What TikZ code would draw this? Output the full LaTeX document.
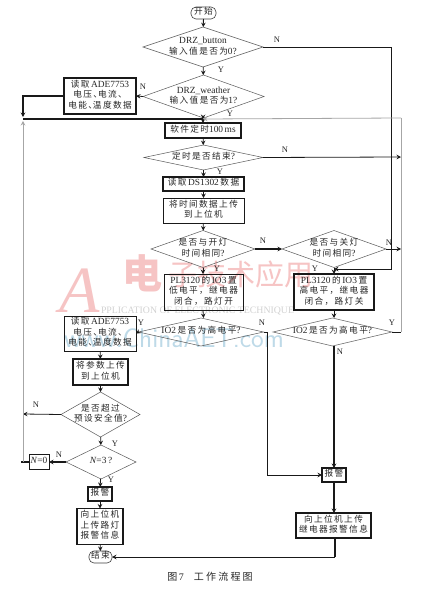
\documentclass[tikz,border=0pt]{standalone}
\usepackage{fontspec}
\setmainfont{Liberation Serif}
\newfontfamily\cjk[LetterSpace=16,Scale=0.92]{Noto Sans CJK SC}
\newfontfamily\cjkw{Noto Sans CJK SC}
\newfontfamily\cjkcap[LetterSpace=22]{Noto Sans CJK SC}
\usetikzlibrary{shapes.geometric,arrows.meta}
\newcommand{\mltxt}[1]{\smash{\makebox[0pt]{\raisebox{-0.2em}{\fontsize{9.4}{10.6}\selectfont\begin{tabular}[c]{@{}c@{}}#1\end{tabular}}}}}
\newcommand{\zh}[1]{{\cjk #1}}
\newcommand{\dn}{、\hspace{-4pt}}
\definecolor{wmred}{RGB}{246,196,196}
\definecolor{wmblue}{RGB}{190,218,232}
\definecolor{wmgray}{RGB}{210,210,210}
\definecolor{lnk}{RGB}{25,25,25}
\tikzset{
  x=1pt,y=-1pt,
  every node/.style={inner sep=0pt,outer sep=0pt,text=black!85},
  dia/.style={draw=black!65,line width=.5pt,diamond,minimum width=#1},
  bx/.style={draw=lnk,line width=#1,rectangle},
  term/.style={draw=black!75,line width=.6pt,rounded corners=5pt,rectangle},
  yn/.style={font=\fontsize{8.5}{9}\selectfont},
  arr/.style={draw=lnk,line width=.8pt,-{Stealth[length=4.5pt,width=4.5pt,inset=1.6pt]}},
  arrt/.style={arr,line width=1.5pt},
  ln/.style={draw=lnk,line width=.8pt},
  gln/.style={draw=black!35,line width=.9pt},
  garr/.style={draw=black!35,line width=.8pt,-{Stealth[length=4.5pt,width=4.5pt,inset=1.6pt]}},
}
\begin{document}
\begin{tikzpicture}
\useasboundingbox[fill=white] (0,0) rectangle (429,591);
% watermark
\node[text=wmred,font=\fontsize{66}{66}\selectfont\itshape] (wA) at (80,291) {A};
\node[text=wmred,font=\cjkw\bfseries\fontsize{40}{40}\selectfont] (wb) at (142,273) {电};
\node[text=wmred,font=\cjkw\fontsize{29}{29}\selectfont,anchor=west] (wc) at (168,274) {子技术应用};
\node[text=wmgray,font=\fontsize{9.8}{10}\selectfont,anchor=west] (wd) at (101,311) {PPLICATION OF ELECTRONIC TECHNIQUE};
\node[text=wmblue,font=\sffamily\fontsize{27}{28}\selectfont,anchor=west] (we) at (64,338) {www.ChinaAET.com};
% nodes
\node[term,minimum width=25pt,minimum height=12pt] (start) at (203.5,13) {\mltxt{\zh{开始}}};
\node[dia=120pt,minimum height=40pt] (d1) at (203,47) {\mltxt{DRZ\_button\\ \zh{输入值是否为}0?}};
\node[dia=121pt,minimum height=43pt] (d2) at (203.5,96.5) {\mltxt{DRZ\_weather\\ \zh{输入值是否为}1?}};
\node[bx=1.3pt,minimum width=72pt,minimum height=36pt] (ra) at (100,96) {\mltxt{\zh{读取}\,ADE7753\\ \zh{电压\dn 电流\dn }\\ \zh{电能\dn 温度数据}}};
\coordinate (j) at (203,119);
\coordinate (lj) at (23,119);
\node[bx=1.3pt,minimum width=76pt,minimum height=15pt] (tm) at (203,130.5) {\mltxt{\zh{软件定时}100\,ms}};
\node[dia=119pt,minimum height=25pt] (d3) at (203.5,157.5) {\mltxt{\zh{定时是否结束}?}};
\node[bx=1.3pt,minimum width=81pt,minimum height=14pt] (ds) at (203.5,184) {\mltxt{\zh{读取}\,DS1302\,\zh{数据}}};
\node[bx=1pt,minimum width=81pt,minimum height=25pt] (up) at (203.5,210.5) {\mltxt{\zh{将时间数据上传}\\ \zh{到上位机}}};
\node[dia=104pt,minimum height=37pt] (d4) at (203,249) {\mltxt{\zh{是否与开灯}\\ \zh{时间相同}?}};
\node[dia=104pt,minimum height=37pt] (d5) at (334,249) {\mltxt{\zh{是否与关灯}\\ \zh{时间相同}?}};
\node[bx=1pt,minimum width=79pt,minimum height=36pt] (p1) at (203.5,292) {\mltxt{PL3120\,\zh{的}\,IO3\,\zh{置}\\ \zh{低电平，继电器}\\ \zh{闭合，路灯开}}};
\node[bx=1.6pt,minimum width=80pt,minimum height=36pt] (p2) at (334,292) {\mltxt{PL3120\,\zh{的}\,IO3\,\zh{置}\\ \zh{高电平，继电器}\\ \zh{闭合，路灯关}}};
\node[dia=125pt,minimum height=28pt] (d6) at (201,332) {\mltxt{IO2\,\zh{是否为高电平}?}};
\node[dia=119pt,minimum height=28pt] (d7) at (332.5,332) {\mltxt{IO2\,\zh{是否为高电平}?}};
\node[bx=1pt,minimum width=72pt,minimum height=35pt] (rb) at (100,333.5) {\mltxt{\zh{读取}\,ADE7753\\ \zh{电压\dn 电流\dn }\\ \zh{电能\dn 温度数据}}};
\node[bx=1.2pt,minimum width=55pt,minimum height=26pt] (u2) at (100.5,372) {\mltxt{\zh{将参数上传}\\ \zh{到上位机}}};
\node[dia=79pt,minimum height=45pt] (d8) at (100.5,414.5) {\mltxt{\zh{是否超过}\\ \zh{预设安全值}?}};
\node[dia=70pt,minimum height=34pt] (d9) at (101,462) {\mltxt{\textit{N}=3\,?}};
\node[bx=.9pt,minimum width=20pt,minimum height=15pt] (n0) at (39,462) {\mltxt{\textit{N}=0}};
\node[bx=1.6pt,minimum width=24pt,minimum height=14pt] (al1) at (100,494) {\mltxt{\zh{报警}}};
\node[bx=1.2pt,minimum width=46pt,minimum height=36pt] (inf) at (100,526.5) {\mltxt{\zh{向上位机}\\ \zh{上传路灯}\\ \zh{报警信息}}};
\node[term,minimum width=23pt,minimum height=12pt] (en) at (100.5,557) {\mltxt{\zh{结束}}};
\node[bx=1.3pt,minimum width=24pt,minimum height=14pt] (al2) at (334,475) {\mltxt{\zh{报警}}};
\node[bx=1.2pt,minimum width=75pt,minimum height=25pt] (i2) at (333.5,525.5) {\mltxt{\zh{向上位机上传}\\ \zh{继电器报警信息}}};
\node[font=\fontsize{10}{11}\selectfont] (cap) at (210,577) {{\cjkcap 图}\,7\quad{\cjkcap 工作流程图}};
% free ends
\coordinate (c1) at (391,47);
\coordinate (c2) at (334,269);
\coordinate (rt) at (401,118);
\coordinate (r3) at (401,157);
\coordinate (r5) at (401,249);
\coordinate (r7) at (401,332);
\coordinate (c6) at (267,332);
\coordinate (l8) at (23,414);
\coordinate (l9) at (23,462);
\coordinate (lt) at (23,121);
\coordinate (c9) at (23,91);
% connectors
\draw[arr] (start) -- (d1);
\draw[arr] (d1) -- (d2);
\draw[arr] (d2.west) -- (ra.east);
\draw[arrt] (ra.west) -- (ra.west -| c9) -- (23,117);
\draw[line width=1.5pt,draw=lnk] (lj) -- (j);
\draw[arr] (d2) -- (j);
\draw[arr] (j) -- (tm);
\draw[arr] (tm) -- (d3);
\draw[arr] (d3) -- (ds);
\draw[arr] (ds) -- (up);
\draw[arr] (up) -- (d4);
\draw[arr] (d4) -- (p1.north -| d4);
\draw[arrt] (d4) -- (d5);
\draw[arr] (d5) -- (p2);
\draw[arr] (p1.south -| d6.north) ++(2,0) -- (203.5,318);
\draw[arr] (p2) -- (334,318);
\draw[arr] (d1.east) -- (c1) -- (c1 |- c2) -- (c2);
\draw[arr] (d3.east) -- (r3);
\draw[arr] (d5.east) -- (r5);
\draw[gln] (r7) -- (rt);
\draw[ln] (d7.east) -- (r7);
\draw[garr] (rt) -- (j);
\draw[arr] (d6.west) -- (rb.east);
\draw[arr] (rb) -- (u2);
\draw[arr] (u2) -- (d8);
\draw[arr] (d8) -- (d9);
\draw[arr] (d8.west) -- (l8);
\draw[arrt] (d9.west) -- (n0.east);
\draw[line width=1.5pt,draw=lnk] (n0.west) -- (21,462);
\draw[garr] (l9) -- (lt);
\draw[arr] (d9) -- (al1);
\draw[arr] (al1) -- (inf);
\draw[arr] (inf) -- (en);
\draw[ln,line width=1pt] (d6.east) -- (c6) -- (c6 |- al2);
\draw[arr] (c6 |- al2) -- (al2.west);
\draw[arrt] (d7.south -| al2) -- (al2.north);
\draw[arrt] (al2) -- (i2.north -| al2);
\draw[ln,line width=1.2pt] (i2.south -| 335,0) -- (335,557);
\draw[arr] (335,557) -- (en.east);
% branch labels
\foreach \t/\px/\py in {N/277/40,Y/221/70,N/143/87,Y/230/114,N/285/150,Y/220/172,N/263/241,N/389/243,Y/217/269,Y/315/269,Y/141/323,N/262/323,Y/392/323,N/340/352,N/36/405,Y/115/444,N/59/455,Y/111/480}
  \node[yn] at (\px,\py) {\t};
\end{tikzpicture}
\end{document}
